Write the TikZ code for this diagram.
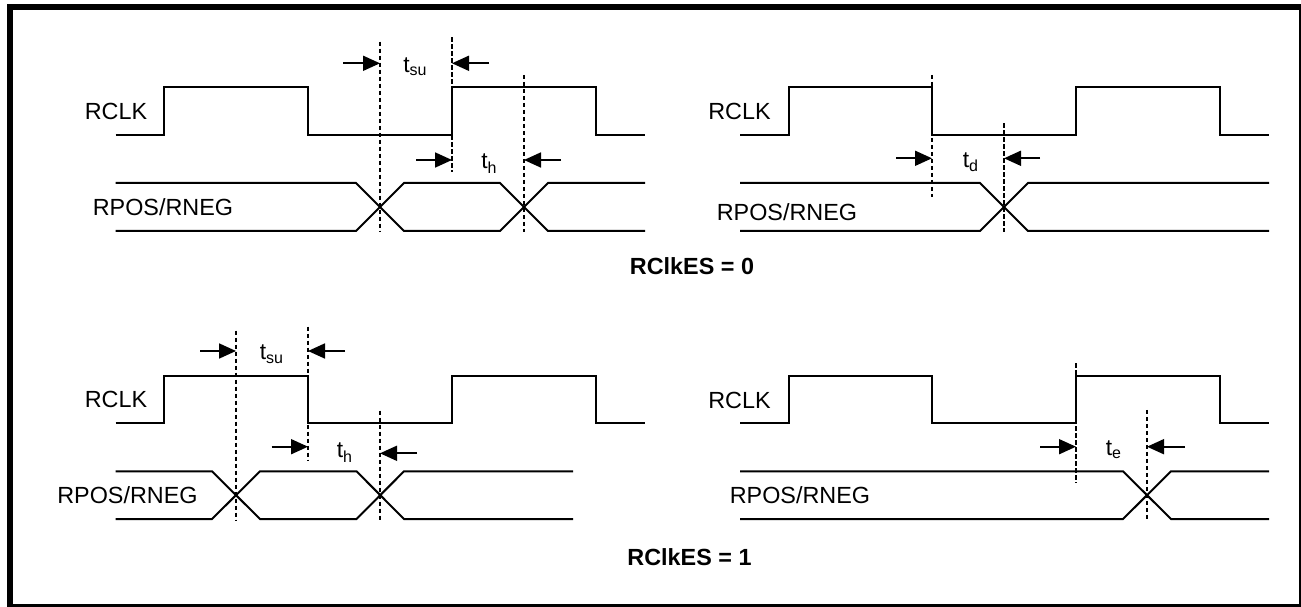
\documentclass[tikz,border=0pt]{standalone}
\usepackage{fontspec}
\setmainfont{Liberation Sans}
\usetikzlibrary{arrows.meta}

\begin{document}
\begin{tikzpicture}[x=0.02cm,y=-0.02cm,
  sig/.style={line width=0.04cm},
  guide/.style={line width=0.03cm,dash pattern=on 0.09cm off 0.05cm},
  dim/.style={line width=0.035cm,-{Triangle[length=0.34cm,width=0.3cm]}},
  lbl/.style={anchor=base west,inner sep=0pt,font=\fontsize{13.3}{16}\selectfont},
  tlbl/.style={anchor=base west,inner sep=0pt,font=\fontsize{13}{15}\selectfont},
  caption/.style={anchor=base,inner sep=0pt,font=\fontsize{13.3}{16}\selectfont\bfseries}]

\useasboundingbox (0,0) rectangle (1301,607);

% Frame
\draw[line width=0.12cm] (10,7) rectangle (1302,607);

% Top left: setup and hold, RClkES = 0
\node[lbl] (clkA) at (84.5,120) {RCLK};
\node[lbl] (datA) at (92.5,216) {RPOS/RNEG};
\draw[sig] (115.5,135) -- (164,135) -- (164,87.3) -- (308,87.3) -- (308,135)
  -- (452,135) -- (452,87.3) -- (596,87.3) -- (596,135) -- (645,135);
\draw[sig] (115.5,183) -- (356,183) -- (404,231) -- (500,231) -- (548,183) -- (645,183);
\draw[sig] (115.5,231) -- (356,231) -- (404,183) -- (500,183) -- (548,231) -- (645,231);
\draw[guide] (380,41.7) -- (380,231.7);
\draw[guide] (452,37.3) -- (452,172.3);
\draw[guide] (524,75) -- (524,231.7);
\draw[dim] (343,63.3) -- (380,63.3);
\draw[dim] (489,63.3) -- (452,63.3);
\node[tlbl] (tsuA) at (403,72.3) {t\textsubscript{su}};
\draw[dim] (416,160) -- (452,160);
\draw[dim] (561,160) -- (524,160);
\node[tlbl] (thA) at (481,169) {t\textsubscript{h}};

% Top right: delay, RClkES = 0
\node[lbl] (clkB) at (708,120) {RCLK};
\node[lbl] (datB) at (716.5,220.7) {RPOS/RNEG};
\draw[sig] (740,135) -- (789,135) -- (789,87.3) -- (932,87.3) -- (932,135)
  -- (1076,135) -- (1076,87.3) -- (1220,87.3) -- (1220,135) -- (1269,135);
\draw[sig] (740,183) -- (980,183) -- (1028,231) -- (1269,231);
\draw[sig] (740,231) -- (980,231) -- (1028,183) -- (1269,183);
\draw[guide] (932,75) -- (932,196.7);
\draw[guide] (1004,123.3) -- (1004,231.7);
\draw[dim] (896,158.3) -- (932,158.3);
\draw[dim] (1040,158.3) -- (1004,158.3);
\node[tlbl] (tdB) at (962.5,167.3) {t\textsubscript{d}};

\node[caption] (esA) at (692,275) {RClkES = 0};

% Bottom left: setup and hold, RClkES = 1
\node[lbl] (clkC) at (84.5,407.3) {RCLK};
\node[lbl] (datC) at (57,503.3) {RPOS/RNEG};
\draw[sig] (115.5,423) -- (164,423) -- (164,375.7) -- (308,375.7) -- (308,423)
  -- (452,423) -- (452,375.7) -- (596,375.7) -- (596,423) -- (645,423);
\draw[sig] (115.5,471.3) -- (212,471.3) -- (260,519) -- (356.5,519) -- (404,471.3) -- (573,471.3);
\draw[sig] (115.5,519) -- (212,519) -- (260,471.3) -- (356.5,471.3) -- (404,519) -- (573,519);
\draw[guide] (236,330.7) -- (236,520);
\draw[guide] (308,326.7) -- (308,460);
\draw[guide] (380,410.7) -- (380,520);
\draw[dim] (200,351) -- (236,351);
\draw[dim] (345,351) -- (308,351);
\node[tlbl] (tsuC) at (259.5,360) {t\textsubscript{su}};
\draw[dim] (271.5,446.7) -- (308,446.7);
\draw[dim] (417,453.3) -- (380,453.3);
\node[tlbl] (thC) at (336.5,458) {t\textsubscript{h}};

% Bottom right: enable, RClkES = 1
\node[lbl] (clkD) at (708,408.3) {RCLK};
\node[lbl] (datD) at (729.5,503.3) {RPOS/RNEG};
\draw[sig] (740,423) -- (789,423) -- (789,375.7) -- (932,375.7) -- (932,423)
  -- (1076,423) -- (1076,375.7) -- (1220,375.7) -- (1220,423) -- (1269,423);
\draw[sig] (740,471.3) -- (1123,471.3) -- (1171,519) -- (1269,519);
\draw[sig] (740,519) -- (1123,519) -- (1171,471.3) -- (1269,471.3);
\draw[guide] (1076,363.3) -- (1076,483.3);
\draw[guide] (1147,410) -- (1147,520);
\draw[dim] (1040,446.7) -- (1076,446.7);
\draw[dim] (1185,446.7) -- (1147,446.7);
\node[tlbl] (teD) at (1105.5,455.7) {t\textsubscript{e}};

\node[caption] (esB) at (689.5,565) {RClkES = 1};

\end{tikzpicture}
\end{document}
